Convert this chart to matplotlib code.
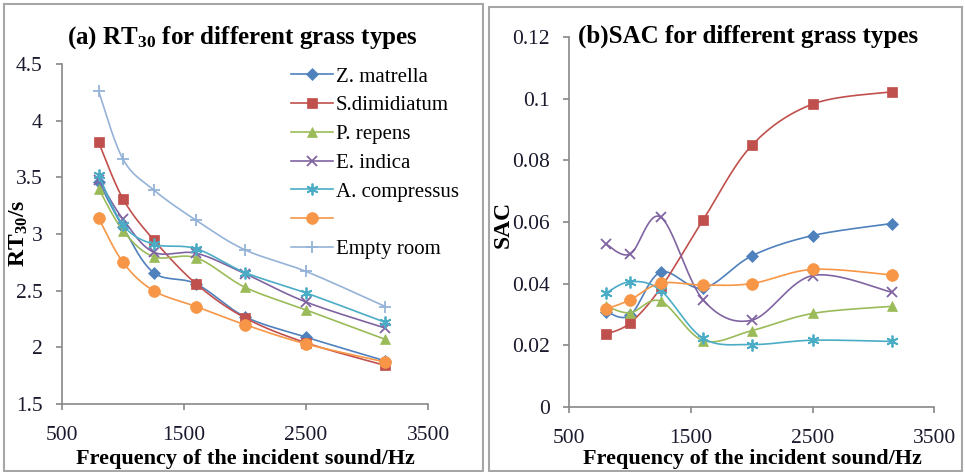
import matplotlib
matplotlib.use('Agg')
import matplotlib.pyplot as plt
import numpy as np
from matplotlib.patches import Rectangle

plt.rcParams.update({
    'font.family': 'Liberation Serif',
    'mathtext.fontset': 'custom',
    'mathtext.rm': 'Liberation Serif',
    'mathtext.bf': 'Liberation Serif:bold',
})

# Frequencies (Hz)
freq = [800, 1000, 1250, 1600, 2000, 2500, 3150]

# (a) RT30 (s)
rt_zm = [3.46, 3.06, 2.66, 2.56, 2.27, 2.09, 1.88]
rt_sd = [3.81, 3.31, 2.95, 2.56, 2.26, 2.04, 1.84]
rt_pr = [3.40, 3.03, 2.80, 2.79, 2.53, 2.33, 2.07]
rt_ei = [3.48, 3.13, 2.84, 2.83, 2.65, 2.40, 2.17]
rt_ac = [3.52, 3.08, 2.91, 2.87, 2.66, 2.48, 2.22]
rt_or = [3.14, 2.75, 2.50, 2.36, 2.20, 2.03, 1.87]
rt_empty = [4.26, 3.66, 3.39, 3.12, 2.86, 2.67, 2.36]

# (b) SAC
sac_zm = [0.0309, 0.0297, 0.0437, 0.0385, 0.0490, 0.0556, 0.0595]
sac_sd = [0.0235, 0.0272, 0.0385, 0.0607, 0.0849, 0.0983, 0.1023]
sac_pr = [0.0327, 0.0305, 0.0343, 0.0215, 0.0247, 0.0303, 0.0326]
sac_ei = [0.0529, 0.0496, 0.0616, 0.0347, 0.0281, 0.0426, 0.0372]
sac_ac = [0.0369, 0.0406, 0.0378, 0.0222, 0.0202, 0.0216, 0.0212]
sac_or = [0.0317, 0.0347, 0.0401, 0.0395, 0.0400, 0.0446, 0.0428]

labels = ['Z. matrella', 'S.dimidiatum', 'P. repens', 'E. indica',
          'A. compressus', ' ', 'Empty room']

# Excel 2007 style: colour, marker, markersize
styles = [
    ('#4F81BD', 'D', 6.0),
    ('#C0504D', 's', 6.5),
    ('#9BBB59', '^', 7.5),
    ('#8064A2', 'x', 7.5),
    ('#4BACC6', (6, 2, 0), 8.5),
    ('#F79646', 'o', 8.5),
    ('#95B3D7', '+', 9.0),
]

GRAY = '#888888'


def smooth(ax, x, y, n=30):
    """Excel-like smoothed line (Catmull-Rom in screen space)."""
    pts = ax.transData.transform(np.column_stack([x, y]))
    p = np.vstack([pts[0], pts, pts[-1]])
    out = []
    t = np.linspace(0, 1, n)[:, None]
    for i in range(1, len(p) - 2):
        p0, p1, p2, p3 = p[i - 1], p[i], p[i + 1], p[i + 2]
        seg = 0.5 * ((2 * p1) + (-p0 + p2) * t +
                     (2 * p0 - 5 * p1 + 4 * p2 - p3) * t ** 2 +
                     (-p0 + 3 * p1 - 3 * p2 + p3) * t ** 3)
        out.append(seg)
    out = np.vstack(out)
    return ax.transData.inverted().transform(out).T


def style_axes(ax):
    for s in ['top', 'right']:
        ax.spines[s].set_visible(False)
    for s in ['left', 'bottom']:
        ax.spines[s].set_color(GRAY)
        ax.spines[s].set_linewidth(1.2)
    ax.tick_params(axis='both', colors=GRAY, labelcolor='#1a1a2e',
                   labelsize=15.5, direction='out', length=4, width=1.2)
    ax.tick_params(axis='x', pad=12)
    ax.tick_params(axis='y', pad=10)


fig = plt.figure(figsize=(9.65, 4.72), dpi=100)

# panel frames
fig.patches.append(Rectangle((4 / 965, 1 - 470.5 / 472), 479 / 965, 466.5 / 472,
                             transform=fig.transFigure, fill=False,
                             edgecolor='#A6A6A6', lw=1.5))
fig.patches.append(Rectangle((489 / 965, 1 - 470.5 / 472), 473 / 965, 463.5 / 472,
                             transform=fig.transFigure, fill=False,
                             edgecolor='#A6A6A6', lw=1.5))

ax1 = fig.add_axes([62 / 965, 1 - 404 / 472, 366 / 965, 340 / 472])
ax2 = fig.add_axes([569.3 / 965, 1 - 406.7 / 472, 365 / 965, 369.4 / 472])

for ax in (ax1, ax2):
    ax.set_xlim(500, 3500)
    ax.set_xticks([500, 1500, 2500, 3500])
    style_axes(ax)

ax1.set_ylim(1.5, 4.5)
ax1.set_yticks([1.5, 2, 2.5, 3, 3.5, 4, 4.5])
ax1.set_yticklabels(['1.5', '2', '2.5', '3', '3.5', '4', '4.5'])
ax2.set_ylim(0, 0.12)
ax2.set_yticks([0, 0.02, 0.04, 0.06, 0.08, 0.1, 0.12])
ax2.set_yticklabels(['0', '0.02', '0.04', '0.06', '0.08', '0.1', '0.12'])

rt_series = [rt_zm, rt_sd, rt_pr, rt_ei, rt_ac, rt_or, rt_empty]
sac_series = [sac_zm, sac_sd, sac_pr, sac_ei, sac_ac, sac_or]

handles = []
for vals, lab, (c, m, ms) in zip(rt_series, labels, styles):
    sx, sy = smooth(ax1, freq, vals)
    ax1.plot(sx, sy, color=c, lw=1.2)
    mw = 1.3 if m in ('x', '+') or isinstance(m, tuple) else 0.5
    ax1.plot(freq, vals, ls='none', marker=m, ms=ms, color=c, mec=c, mew=mw)
    h, = ax1.plot([], [], color=c, lw=1.2, marker=m, ms=ms, mec=c, mew=mw,
                  label=lab)
    handles.append(h)

for vals, (c, m, ms) in zip(sac_series, styles):
    sx, sy = smooth(ax2, freq, vals)
    ax2.plot(sx, sy, color=c, lw=1.2)
    mw = 1.3 if m in ('x', '+') or isinstance(m, tuple) else 0.5
    ax2.plot(freq, vals, ls='none', marker=m, ms=ms, color=c, mec=c, mew=mw)

ax1.legend(handles=handles, loc='upper left',
           bbox_to_anchor=(291 / 965, 1 - 67 / 472),
           bbox_transform=fig.transFigure, frameon=False, fontsize=15,
           handlelength=2.0, handletextpad=0.15, labelspacing=0.44,
           borderpad=0, borderaxespad=0)

# titles
fig.text(242 / 965, 1 - 38 / 472, r'(a) RT$\mathregular{_{30}}$ for different grass types',
         ha='center', va='center', fontsize=18, fontweight='bold')
fig.text(748 / 965, 1 - 36 / 472, '(b)SAC for different grass types',
         ha='center', va='center', fontsize=18, fontweight='bold')

# axis labels
fig.text(245 / 965, 1 - 459 / 472, 'Frequency of the incident sound/Hz',
         ha='center', va='center', fontsize=16, fontweight='bold')
fig.text(752 / 965, 1 - 459 / 472, 'Frequency of the incident sound/Hz',
         ha='center', va='center', fontsize=16, fontweight='bold')
fig.text(19 / 965, 1 - 233 / 472, r'RT$\mathregular{_{30}}$/s', rotation=90,
         ha='center', va='center', fontsize=17, fontweight='bold')
fig.text(503 / 965, 1 - 224 / 472, 'SAC', rotation=90,
         ha='center', va='center', fontsize=17, fontweight='bold')

fig.savefig('out.png', dpi=100)
